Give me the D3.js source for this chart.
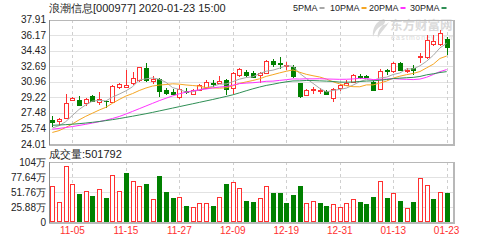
<!DOCTYPE html>
<html>
<head>
<meta charset="utf-8">
<script src="https://cdn.jsdelivr.net/npm/d3@7"></script>
<style>
  body { margin: 0; background: #fff; }
  svg { display: block; font-family: "Liberation Sans", Arial, sans-serif; }
</style>
</head>
<body>
<div id="chart"></div>
<script>
// ── data ───────────────────────────────────────────────────
const title = "浪潮信息[000977] 2020-01-23 15:00";
const volumeTitle = "成交量:501792";

const dates = [
  "10-31", "11-01", "11-04", "11-05", "11-06", "11-07", "11-08", "11-11", "11-12", "11-13",
  "11-14", "11-15", "11-18", "11-19", "11-20", "11-21", "11-22", "11-25", "11-26", "11-27",
  "11-28", "11-29", "12-02", "12-03", "12-04", "12-05", "12-06", "12-09", "12-10", "12-11",
  "12-12", "12-13", "12-16", "12-17", "12-18", "12-19", "12-20", "12-23", "12-24", "12-25",
  "12-26", "12-27", "12-30", "12-31", "01-02", "01-03", "01-06", "01-07", "01-08", "01-09",
  "01-10", "01-13", "01-14", "01-15", "01-16", "01-17", "01-20", "01-21", "01-22", "01-23"
];

const open = [
  26.70, 26.58, 26.88, 28.89, 28.93, 28.56, 29.37, 28.67, 28.86, 28.74,
  30.41, 30.34, 30.79, 31.16, 32.46, 30.97, 31.24, 30.04, 29.85, 29.30,
  29.95, 29.60, 30.04, 30.35, 30.86, 30.86, 31.16, 30.23, 31.64, 32.08,
  31.91, 31.72, 31.91, 33.28, 33.00, 32.72, 32.64, 30.79, 29.48, 29.95,
  29.90, 29.93, 29.11, 30.23, 30.60, 30.97, 31.60, 31.55, 30.97, 30.23,
  32.30, 32.08, 33.02, 32.15, 32.45, 33.70, 33.69, 35.20, 35.18, 35.70
];
const high = [
  27.15, 26.90, 29.56, 29.25, 29.37, 29.20, 29.50, 29.85, 28.90, 30.60,
  30.85, 32.27, 32.08, 32.65, 33.09, 31.60, 31.40, 30.30, 30.10, 30.60,
  30.30, 30.20, 30.75, 31.20, 31.10, 31.60, 31.30, 32.08, 32.50, 32.25,
  32.20, 32.00, 33.40, 33.50, 33.76, 33.20, 32.85, 30.85, 30.10, 30.40,
  30.30, 30.05, 30.30, 30.75, 31.10, 31.85, 31.85, 31.70, 31.10, 32.35,
  32.35, 33.15, 33.20, 32.45, 32.85, 34.14, 36.18, 36.18, 36.74, 36.00
];
const low = [
  25.95, 26.15, 26.80, 28.80, 28.26, 28.30, 28.70, 28.37, 28.07, 28.65,
  30.10, 30.25, 30.60, 30.97, 30.95, 30.71, 29.29, 29.50, 29.50, 29.04,
  29.60, 29.50, 29.90, 30.25, 30.40, 30.75, 29.48, 29.60, 31.50, 31.50,
  31.35, 30.86, 31.80, 32.60, 32.40, 32.30, 31.40, 29.20, 29.40, 29.60,
  29.60, 29.50, 28.74, 29.90, 30.50, 30.85, 31.30, 31.35, 29.95, 30.10,
  31.72, 31.90, 32.20, 31.90, 31.75, 33.00, 33.47, 34.95, 34.95, 33.95
];
const close = [
  26.50, 26.77, 28.56, 29.15, 28.37, 29.04, 28.81, 29.04, 28.84, 30.49,
  30.71, 30.60, 31.35, 32.58, 31.16, 31.24, 29.85, 29.67, 29.60, 30.15,
  29.80, 30.04, 30.60, 30.97, 30.80, 31.05, 30.12, 31.91, 32.35, 31.72,
  31.46, 31.90, 33.28, 32.90, 32.85, 32.80, 31.60, 29.37, 30.04, 30.10,
  30.05, 29.60, 30.15, 30.60, 30.86, 31.72, 31.50, 31.45, 30.04, 32.20,
  32.15, 33.02, 32.27, 32.30, 32.25, 33.85, 35.60, 35.55, 36.44, 34.85
];
const prevClose = 26.30; // close of the day before the first bar

// volume, in 万 shares
const volume = [
  62.2, 34.9, 97.1, 65.7, 48.8, 53.0, 44.3, 56.5, 41.3, 81.9,
  53.0, 83.7, 70.9, 62.2, 65.7, 39.6, 79.7, 51.8, 41.3, 42.5,
  27.9, 25.1, 32.0, 33.1, 27.9, 43.6, 65.7, 68.7, 58.7, 36.6,
  34.9, 40.8, 62.2, 50.6, 50.6, 32.0, 46.0, 62.2, 32.0, 35.5,
  32.0, 27.4, 30.9, 25.1, 32.0, 39.0, 33.7, 30.9, 43.6, 70.9,
  40.8, 50.0, 36.6, 23.9, 33.7, 75.8, 64.1, 39.6, 52.3, 50.18
];

const ma5 = [
  25.80, 26.05, 26.50, 27.20, 27.87, 28.38, 28.79, 28.88, 28.82, 29.24,
  29.58, 29.94, 30.40, 31.15, 31.28, 31.39, 31.24, 30.90, 30.30, 30.10,
  29.81, 29.85, 30.04, 30.31, 30.44, 30.69, 30.71, 30.97, 31.25, 31.43,
  31.51, 31.87, 32.14, 32.25, 32.48, 32.75, 32.69, 31.90, 31.33, 30.78,
  30.23, 29.83, 29.99, 30.10, 30.25, 30.59, 30.97, 31.23, 31.11, 31.38,
  31.47, 31.77, 31.94, 32.39, 32.40, 32.74, 33.25, 33.91, 34.74, 35.26
];
const ma10 = [
  25.30, 25.50, 25.85, 26.25, 26.70, 27.10, 27.45, 27.80, 28.10, 28.56,
  28.98, 29.36, 29.64, 29.98, 30.26, 30.48, 30.59, 30.65, 30.73, 30.69,
  30.60, 30.54, 30.47, 30.31, 30.27, 30.25, 30.28, 30.50, 30.78, 30.94,
  31.10, 31.29, 31.56, 31.75, 31.95, 32.13, 32.28, 32.02, 31.79, 31.63,
  31.49, 31.26, 30.95, 30.72, 30.52, 30.41, 30.40, 30.61, 30.61, 30.82,
  31.03, 31.37, 31.58, 31.75, 31.89, 32.10, 32.51, 32.92, 33.56, 33.83
];
const ma20 = [
  25.66, 25.75, 25.85, 25.96, 26.08, 26.21, 26.35, 26.50, 26.67, 26.86,
  27.08, 27.35, 27.65, 27.95, 28.25, 28.55, 28.85, 29.12, 29.38, 29.62,
  29.79, 29.95, 30.05, 30.15, 30.27, 30.37, 30.43, 30.58, 30.75, 30.81,
  30.85, 30.92, 31.01, 31.03, 31.11, 31.19, 31.28, 31.26, 31.29, 31.28,
  31.30, 31.27, 31.25, 31.23, 31.24, 31.27, 31.34, 31.32, 31.20, 31.22,
  31.26, 31.31, 31.26, 31.23, 31.20, 31.26, 31.46, 31.77, 32.09, 32.32
];
const ma30 = [
  26.10, 26.13, 26.17, 26.22, 26.28, 26.35, 26.43, 26.52, 26.62, 26.73,
  26.85, 26.98, 27.11, 27.25, 27.39, 27.54, 27.70, 27.86, 28.02, 28.18,
  28.34, 28.50, 28.66, 28.82, 28.98, 29.15, 29.32, 29.50, 29.72, 29.95,
  30.17, 30.37, 30.55, 30.68, 30.83, 30.95, 31.05, 31.06, 31.10, 31.09,
  31.06, 31.03, 30.99, 30.92, 30.91, 30.93, 30.99, 31.04, 31.06, 31.13,
  31.21, 31.31, 31.36, 31.41, 31.45, 31.55, 31.73, 31.85, 31.99, 32.09
];

const priceTicks = [37.91, 36.17, 34.43, 32.69, 30.96, 29.22, 27.48, 25.74, 24.01];
const volTicks = [103.52, 77.64, 51.76, 25.88, 0];
const volTickLabels = ["104万", "77.64万", "51.76万", "25.88万", "0"];
const dateTicks = ["11-05", "11-15", "11-27", "12-09", "12-19", "12-31", "01-13", "01-23"];

const maNames = ["5PMA", "10PMA", "20PMA", "30PMA"];

// ── theme ──────────────────────────────────────────────────
const C = {
  up: "#ff3030",
  down: "#008000",
  grid: "#e2e2e2",
  vgrid: "#cfcfcf",
  frame: "#b8b8b8",
  axis: "#8a8a8a",
  text: "#222",
  date: "#ff3030",
  ma: ["#a8a8a8", "#f5a623", "#ff33ff", "#2f8f55"],
};

// ── layout ─────────────────────────────────────────────────
const W = 502, H = 240;
const left = 49, right = 453;
const mainTop = 19.5, mainBot = 144;
const volTop = 162, volBot = 222;

const svg = d3.select("#chart").append("svg")
  .attr("width", W).attr("height", H);

const x = d3.scaleBand().domain(dates).range([left, right - 3]);
const cx = d => x(d) + x.bandwidth() / 2;
const y = d3.scaleLinear().domain([24.01, 37.91]).range([mainBot, mainTop]);
const yv = d3.scaleLinear().domain([0, 103.52]).range([volBot, volTop]);
const px = v => Math.round(v) + 0.5;

// ── grids ──────────────────────────────────────────────────
const grid = svg.append("g").attr("shape-rendering", "crispEdges");

grid.selectAll(".hp").data(priceTicks).join("line")
  .attr("x1", left).attr("x2", right)
  .attr("y1", d => px(y(d))).attr("y2", d => px(y(d)))
  .attr("stroke", C.grid);

grid.selectAll(".hv").data(volTicks).join("line")
  .attr("x1", left).attr("x2", right)
  .attr("y1", d => px(yv(d))).attr("y2", d => px(yv(d)))
  .attr("stroke", C.grid);

[[mainTop, mainBot], [volTop, volBot]].forEach(([t, b]) => {
  grid.append("g").selectAll("line").data(dateTicks).join("line")
    .attr("x1", d => px(cx(d))).attr("x2", d => px(cx(d)))
    .attr("y1", t).attr("y2", b)
    .attr("stroke", C.vgrid)
    .attr("stroke-dasharray", "3,3");
});

// ── watermark ──────────────────────────────────────────────
const wm = svg.append("g").attr("fill", "#dadada");
wm.append("path")
  .attr("d", "M384,19 C376,21 372,28 373,37 C375,31 378,27 383,25 C379,29 377,33 378,38 C381,31 386,28 389,22 C387,24 385,25 383,25 C385,23 386,21 384,19 Z");
wm.append("text").attr("x", 390).attr("y", 30)
  .attr("font-size", 12.5).attr("font-weight", "bold")
  .attr("font-family", "'Noto Sans CJK SC', sans-serif")
  .text("东方财富网");
wm.append("text").attr("x", 391).attr("y", 40)
  .attr("font-size", 7).attr("letter-spacing", 1.2)
  .text("eastmoney.com");

// ── candles ────────────────────────────────────────────────
const isUp = i => close[i] >= open[i];
const idx = d3.range(dates.length);

const candles = svg.append("g").attr("shape-rendering", "crispEdges");
candles.selectAll("line").data(idx).join("line")
  .attr("x1", i => px(cx(dates[i]))).attr("x2", i => px(cx(dates[i])))
  .attr("y1", i => y(high[i])).attr("y2", i => y(low[i]))
  .attr("stroke", i => isUp(i) ? C.up : C.down);

candles.selectAll("rect").data(idx).join("rect")
  .attr("x", i => Math.round(cx(dates[i])) - 2 + 0.5)
  .attr("width", 4)
  .attr("y", i => px(y(Math.max(open[i], close[i]))))
  .attr("height", i => Math.max(0.01, Math.round(Math.abs(y(open[i]) - y(close[i])))))
  .attr("fill", i => isUp(i) ? "#fff" : C.down)
  .attr("stroke", i => isUp(i) ? C.up : C.down);

// ── moving averages ────────────────────────────────────────
const maLine = d3.line().x((d, i) => cx(dates[i])).y(d => y(d));
[ma5, ma10, ma20, ma30].forEach((s, k) => {
  svg.append("path").datum(s)
    .attr("d", maLine)
    .attr("fill", "none")
    .attr("stroke", C.ma[k])
    .attr("stroke-width", 1);
});

// ── volume ─────────────────────────────────────────────────
const volUp = i => close[i] >= (i === 0 ? prevClose : close[i - 1]);
svg.append("g").attr("shape-rendering", "crispEdges")
  .selectAll("rect").data(idx).join("rect")
  .attr("x", i => Math.round(cx(dates[i])) - 2 + 0.5)
  .attr("width", 4)
  .attr("y", i => px(yv(volume[i])))
  .attr("height", i => Math.round(yv(0) - yv(volume[i])) - 1)
  .attr("fill", i => volUp(i) ? "#fff" : C.down)
  .attr("stroke", i => volUp(i) ? C.up : C.down);

// ── frames ─────────────────────────────────────────────────
const frame = svg.append("g").attr("shape-rendering", "crispEdges").attr("fill", "none");
[[mainTop, mainBot], [volTop, volBot]].forEach(([t, b]) => {
  frame.append("rect")
    .attr("x", left + 0.5).attr("y", Math.round(t) + 0.5)
    .attr("width", right - left).attr("height", Math.round(b) - Math.round(t))
    .attr("stroke", C.frame);
  frame.append("line")
    .attr("x1", right + 1.5).attr("x2", right + 1.5)
    .attr("y1", Math.round(t)).attr("y2", Math.round(b) + 2)
    .attr("stroke", C.frame);
  frame.append("line")
    .attr("x1", left).attr("x2", right + 2)
    .attr("y1", Math.round(b) + 1.5).attr("y2", Math.round(b) + 1.5)
    .attr("stroke", C.frame);
  frame.append("line")
    .attr("x1", left + 0.5).attr("x2", left + 0.5)
    .attr("y1", Math.round(t)).attr("y2", Math.round(b) + 1)
    .attr("stroke", C.axis);
});

// ── texts ──────────────────────────────────────────────────
svg.append("text").attr("x", left).attr("y", 8)
  .attr("dominant-baseline", "central")
  .attr("font-size", 11).attr("fill", C.text)
  .text(title);

svg.append("g").selectAll("text").data(priceTicks).join("text")
  .attr("x", left - 3).attr("y", d => y(d))
  .attr("text-anchor", "end").attr("dominant-baseline", "central")
  .attr("font-size", 10).attr("fill", C.text)
  .text(d => d.toFixed(2));

svg.append("g").selectAll("text").data(volTicks).join("text")
  .attr("x", left - 3).attr("y", d => yv(d))
  .attr("text-anchor", "end").attr("dominant-baseline", "central")
  .attr("font-size", 10).attr("fill", C.text)
  .text((d, i) => volTickLabels[i]);

svg.append("text").attr("x", left).attr("y", 154)
  .attr("dominant-baseline", "central")
  .attr("font-size", 11).attr("fill", C.text)
  .text(volumeTitle);

svg.append("g").selectAll("text").data(dateTicks).join("text")
  .attr("x", d => cx(d)).attr("y", 230)
  .attr("text-anchor", "middle").attr("dominant-baseline", "central")
  .attr("font-size", 10).attr("fill", C.date)
  .text(d => d);

// legend
const legendX = [293, 330, 369, 410];
const leg = svg.append("g");
maNames.forEach((name, k) => {
  const t = leg.append("text").attr("x", legendX[k]).attr("y", 8)
    .attr("dominant-baseline", "central")
    .attr("font-size", 9).attr("fill", C.text)
    .text(name);
  const w = t.node().getComputedTextLength();
  leg.append("rect")
    .attr("x", legendX[k] + w + 2).attr("y", 7)
    .attr("width", 5).attr("height", 2)
    .attr("fill", C.ma[k]);
});
</script>
</body>
</html>
